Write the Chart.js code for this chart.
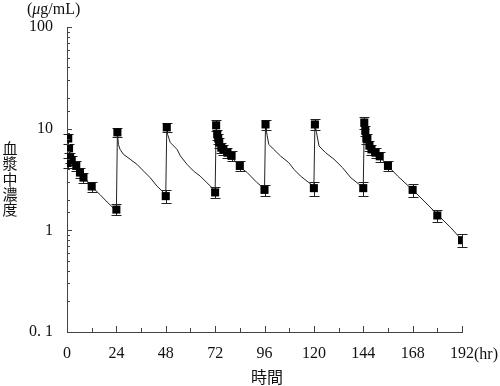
<!DOCTYPE html>
<html>
<head>
<meta charset="utf-8">
<script src="https://cdn.jsdelivr.net/npm/chart.js@4.4.0/dist/chart.umd.min.js"></script>
<style>
  body { margin: 0; background: #fff; }
</style>
</head>
<body>
<canvas id="c" width="500" height="386"></canvas>
<script>
// observed plasma levels (mean, SD)
var obsHours = [0.3, 0.6, 1, 1.5, 2.3, 4.5, 6.3, 8, 12, 24,
                24.5, 48,
                48.5, 72,
                72.5, 73, 73.5, 74, 75, 76, 78, 80, 84, 96,
                96.5, 120,
                120.5, 144,
                144.5, 145, 145.5, 146, 147, 148, 150, 152, 156, 168, 180, 192];
var obsConc  = [4.6, 8.0, 6.4, 5.2, 4.9, 4.3, 3.7, 3.3, 2.7, 1.6,
                9.2, 2.17,
                10.3, 2.36,
                10.8, 8.8, 8.0, 7.3, 6.5, 6.25, 5.8, 5.4, 4.3, 2.5,
                11.0, 2.6,
                11.0, 2.6,
                11.5, 9.6, 8.0, 7.9, 6.8, 6.25, 5.8, 5.35, 4.3, 2.5, 1.4, 0.8];
var obsSD    = [0.5, 0.9, 0.7, 0.6, 0.5, 0.5, 0.4, 0.4, 0.3, 0.2,
                0.9, 0.3,
                1.1, 0.3,
                1.4, 1.0, 0.9, 0.8, 0.7, 0.7, 0.6, 0.6, 0.5, 0.3,
                1.3, 0.4,
                1.4, 0.4,
                1.6, 1.1, 0.9, 0.9, 0.8, 0.7, 0.6, 0.6, 0.5, 0.35, 0.2, 0.12];

// simulated curve
var curveHours = [0, 0.5, 1, 2, 4, 6, 8, 12, 16, 19.5, 24,
                  24.5, 25, 25.8, 27.4, 30.7, 34, 37.2, 40.4, 43.7, 47, 48,
                  48.5, 48.9, 50.2, 53.5, 55.1, 58.3, 61.5, 64.7, 68, 71.3, 72,
                  72.5, 73, 74, 76, 78, 80, 84, 87.6, 92.4, 96,
                  96.5, 97.3, 98.1, 100.5, 103.8, 107.8, 110.3, 113.5, 117.6, 120,
                  120.5, 121.3, 122.5, 125.7, 129.8, 133.9, 137.9, 142, 144,
                  144.5, 145, 146, 147, 148, 150, 152, 156, 160.7, 168, 173.6, 180.5, 186.6, 192];
var curveConc  = [8.5, 7.6, 6.4, 5.2, 4.4, 3.8, 3.4, 2.7, 2.25, 1.9, 1.55,
                  9.2, 7.0, 6.25, 5.6, 5.0, 4.46, 3.83, 3.3, 2.73, 2.35, 2.2,
                  10.3, 8.8, 7.3, 6.25, 5.4, 4.46, 3.83, 3.42, 2.94, 2.53, 2.4,
                  10.8, 8.8, 7.3, 6.3, 5.8, 5.3, 4.2, 3.7, 2.94, 2.55,
                  11.0, 8.5, 7.0, 6.25, 5.38, 4.63, 3.98, 3.42, 2.94, 2.7,
                  11.0, 9.1, 6.75, 5.8, 5.0, 4.14, 3.3, 2.83, 2.65,
                  11.5, 9.6, 7.8, 6.8, 6.25, 5.7, 5.3, 4.3, 3.42, 2.5, 1.94, 1.40, 1.06, 0.8];

var yMajor  = [0.1, 1, 10, 100];
var yLabels = ['0. 1', '1', '10', '100'];
var xUnit = '(hr)';
var yTitle = ['血', '漿', '中', '濃', '度'];
var xTitle = '時間';

var numFont = 'Liberation Serif';
var jpFont = 'Noto Sans CJK JP';
var axisColor = '#444';

var deco = {
  id: 'deco',
  beforeDatasetsDraw: function(chart) {
    // error bars
    var ctx = chart.ctx, xs = chart.scales.x, ys = chart.scales.y;
    ctx.save();
    ctx.strokeStyle = '#222';
    ctx.lineWidth = 1;
    obsHours.forEach(function(t, i) {
      var px = Math.round(xs.getPixelForValue(t)) + 0.5;
      var top = Math.round(ys.getPixelForValue(obsConc[i] + obsSD[i])) + 0.5;
      var bot = Math.round(ys.getPixelForValue(obsConc[i] - obsSD[i])) + 0.5;
      ctx.beginPath();
      ctx.moveTo(px, top); ctx.lineTo(px, bot);
      ctx.moveTo(px - 5, top); ctx.lineTo(px + 5, top);
      ctx.moveTo(px - 5, bot); ctx.lineTo(px + 5, bot);
      ctx.stroke();
    });
    ctx.restore();
  },
  afterDraw: function(chart) {
    var ctx = chart.ctx, xs = chart.scales.x, ys = chart.scales.y;
    var area = chart.chartArea;
    ctx.save();
    // inside tick marks
    ctx.strokeStyle = axisColor;
    ctx.lineWidth = 1;
    ctx.beginPath();
    xs.ticks.forEach(function(tk) {
      var px = Math.round(xs.getPixelForValue(tk.value)) + 0.5;
      var len = tk.value % 24 === 0 ? 6 : 4;
      ctx.moveTo(px, area.bottom); ctx.lineTo(px, area.bottom - len);
    });
    ys.ticks.forEach(function(tk) {
      var py = Math.round(ys.getPixelForValue(tk.value)) + 0.5;
      var lg = Math.log10(tk.value);
      var len = Math.abs(lg - Math.round(lg)) < 1e-6 ? 5 : 3;
      ctx.moveTo(area.left, py); ctx.lineTo(area.left + len, py);
    });
    ctx.stroke();

    ctx.fillStyle = '#111';
    // unit label over the y axis
    ctx.textBaseline = 'alphabetic';
    ctx.textAlign = 'left';
    var x0 = 27;
    ctx.font = '16px "' + numFont + '"';
    ctx.fillText('(', x0, 14);
    x0 += ctx.measureText('(').width;
    ctx.font = 'italic 16px "' + numFont + '"';
    ctx.fillText('μ', x0, 14);
    x0 += ctx.measureText('μ').width;
    ctx.font = '16px "' + numFont + '"';
    ctx.fillText('g/mL)', x0, 14);

    // (hr) after the last x label
    var lastPx = xs.getPixelForValue(192);
    var half = ctx.measureText('192').width / 2;
    ctx.textBaseline = 'middle';
    ctx.fillText(xUnit, lastPx + half, 355);

    // vertical y title
    ctx.font = '15px "' + jpFont + '"';
    ctx.textAlign = 'center';
    yTitle.forEach(function(ch, i) {
      ctx.fillText(ch, 10, 148 + i * 15.4);
    });
    // x title
    ctx.font = '16px "' + jpFont + '"';
    ctx.fillText(xTitle, 267, 377);
    ctx.restore();
  }
};

var curveData = curveHours.map(function(t, i) { return { x: t, y: curveConc[i] }; });
var obsData = obsHours.map(function(t, i) { return { x: t, y: obsConc[i] }; });

new Chart(document.getElementById('c'), {
  type: 'scatter',
  data: {
    datasets: [{
      label: 'sim',
      data: curveData,
      showLine: true,
      borderColor: '#222',
      borderWidth: 1,
      pointRadius: 0,
      tension: 0,
      order: 2
    }, {
      label: 'obs',
      data: obsData,
      pointStyle: 'rect',
      pointRadius: 5.7,
      backgroundColor: '#000',
      borderColor: '#000',
      borderWidth: 0,
      order: 1
    }]
  },
  options: {
    responsive: false,
    animation: false,
    devicePixelRatio: 1,
    layout: { padding: { left: 0, right: 38, top: 27, bottom: 0 } },
    plugins: { legend: { display: false }, tooltip: { enabled: false } },
    scales: {
      x: {
        type: 'linear', min: 0, max: 192,
        grid: { display: false, drawTicks: false },
        border: { display: true, color: axisColor, width: 1 },
        ticks: {
          stepSize: 12, autoSkip: false, maxRotation: 0, padding: 12,
          color: '#111', font: { family: numFont, size: 16 },
          callback: function(v) { return v % 24 === 0 ? String(v) : ''; }
        },
        afterFit: function(s) { s.height = 54; }
      },
      y: {
        type: 'logarithmic', min: 0.1, max: 100,
        grid: { display: false, drawTicks: false },
        border: { display: true, color: axisColor, width: 1 },
        ticks: {
          autoSkip: false, padding: 14,
          color: '#111', font: { family: numFont, size: 16 },
          callback: function(v) {
            for (var k = 0; k < yMajor.length; k++) {
              if (Math.abs(v / yMajor[k] - 1) < 1e-6) return yLabels[k];
            }
            return '';
          }
        },
        afterFit: function(s) { s.width = 67; }
      }
    }
  },
  plugins: [deco]
});
</script>
</body>
</html>
